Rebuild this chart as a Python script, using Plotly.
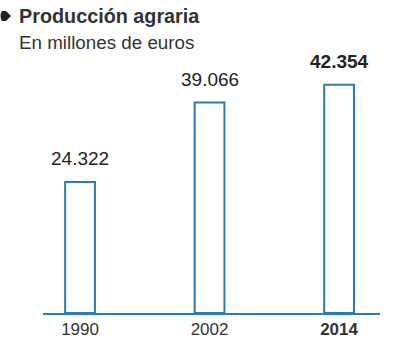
import plotly.graph_objects as go

# Producción agraria, millones de euros
years = ["1990", "2002", "2014"]
values = [24322, 39066, 42354]
value_labels = ["24.322", "39.066", "<b>42.354</b>"]
tick_labels = ["1990", "2002", "<b>2014</b>"]

BLUE = "#2b7bb4"
TEXT = "#333333"
FONT = "Liberation Sans, Arial, sans-serif"

W, H = 414, 345
ML, MR, MT, MB = 43, 34, 60, 32
PW, PH = W - ML - MR, H - MT - MB


def px_x(px):
    return (px - ML) / PW


def px_y(py):
    return (H - MB - py) / PH


x_pos = list(range(len(years)))

fig = go.Figure(
    go.Bar(
        x=x_pos,
        y=values,
        width=0.23,
        marker=dict(color="white", line=dict(color=BLUE, width=2)),
        hoverinfo="skip",
    )
)

for xi, v, lab in zip(x_pos, values, value_labels):
    fig.add_annotation(
        x=xi, y=v, xref="x", yref="y", text=lab, showarrow=False,
        yanchor="middle", yshift=23,
        font=dict(family=FONT, size=19, color="#222222"),
    )

fig.add_annotation(
    x=px_x(17), y=px_y(16), xref="paper", yref="paper",
    text="<b>Producción agraria</b>", showarrow=False,
    xanchor="left", yanchor="middle",
    font=dict(family=FONT, size=19.8, color=TEXT),
)
fig.add_annotation(
    x=px_x(17), y=px_y(43), xref="paper", yref="paper",
    text="En millones de euros", showarrow=False,
    xanchor="left", yanchor="middle",
    font=dict(family=FONT, size=18.8, color=TEXT),
)

# bullet marker before the title
fig.add_shape(
    type="path", xref="paper", yref="paper",
    path=(f"M {px_x(2)},{px_y(11)} L {px_x(6)},{px_y(11)} L {px_x(11)},{px_y(16)} "
          f"L {px_x(6)},{px_y(21)} L {px_x(2)},{px_y(21)} "
          f"Q {px_x(-1)},{px_y(16)} {px_x(2)},{px_y(11)} Z"),
    fillcolor="#222222", line=dict(width=0),
)

fig.update_layout(
    width=W, height=H,
    margin=dict(l=ML, r=MR, t=MT, b=MB, autoexpand=False),
    paper_bgcolor="white", plot_bgcolor="white",
    showlegend=False,
    xaxis=dict(
        range=[-0.286, 2.316], tickmode="array", tickvals=x_pos, ticktext=tick_labels,
        showgrid=False, zeroline=False, showline=True, linecolor=BLUE, linewidth=2,
        ticks="", tickfont=dict(family=FONT, size=17, color=TEXT), fixedrange=True,
        automargin=False,
    ),
    yaxis=dict(range=[0, 46932], visible=False, fixedrange=True),
)

fig.write_html("out.html")
